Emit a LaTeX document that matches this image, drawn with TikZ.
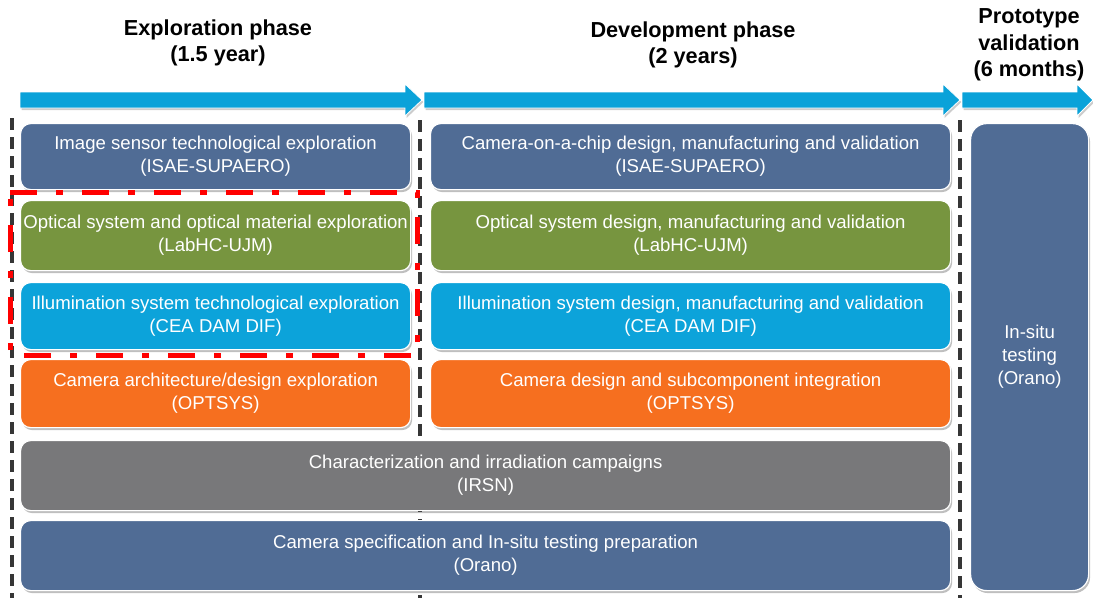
\documentclass[tikz,border=0pt]{standalone}
\usepackage{fontspec}
\setmainfont{Liberation Sans}
\usetikzlibrary{shadows}
\definecolor{slate}{HTML}{506C95}
\definecolor{olive}{HTML}{77953F}
\definecolor{sky}{HTML}{0CA3DA}
\definecolor{orng}{HTML}{F66F1F}
\definecolor{grey}{HTML}{78787A}
\definecolor{arrowblue}{HTML}{0AA2D9}
\definecolor{sepline}{HTML}{363636}
\tikzset{
  box/.style={rounded corners=10pt, draw=white, line width=1.2pt, text=white, align=center,
    font=\fontsize{18.6}{23}\selectfont, inner sep=0pt, anchor=north west,
    drop shadow={shadow xshift=1.5pt, shadow yshift=-2.5pt, fill=black, opacity=0.25}},
  hdr/.style={font=\fontsize{21.7}{26.5}\selectfont\bfseries, align=center, text=black},
  sepl/.style={draw=sepline, line width=4.5pt, dash pattern=on 12pt off 7pt},
  phasearrow/.style={fill=arrowblue, draw=white, line width=0.8pt,
    drop shadow={shadow xshift=1.5pt, shadow yshift=-2pt, fill=black, opacity=0.2}},
  redbox/.style={draw=red, line width=5pt, dash pattern=on 27pt off 19pt on 7pt off 19pt}
}
\begin{document}
\begin{tikzpicture}[x=1pt,y=-1pt]
\useasboundingbox (0,0) rectangle (1093,598);

% headers
\node[hdr] (h1) at (218,43) {Exploration phase\\(1.5 year)};
\node[hdr] (h2) at (693,45) {Development phase\\(2 years)};
\node[hdr] (h3) at (1029,45) {Prototype\\validation\\(6 months)};

% phase arrows
\path[phasearrow] (20,92) -- (405,92) -- (405,84) -- (422,100) -- (405,116) -- (405,108) -- (20,108) -- cycle;
\path[phasearrow] (424,92) -- (943,92) -- (943,84) -- (960,100) -- (943,116) -- (943,108) -- (424,108) -- cycle;
\path[phasearrow] (962,92) -- (1077,92) -- (1077,84) -- (1093,100) -- (1077,116) -- (1077,108) -- (962,108) -- cycle;

% separators
\draw[sepl] (12,118) -- (12,598);
\draw[sepl] (420,120) -- (420,598);
\draw[sepl] (960,120) -- (960,598);

% left column
\node[box, fill=slate, minimum width=390, minimum height=66] (l1) at (20,123) {Image sensor technological exploration\\(ISAE-SUPAERO)};
\node[box, fill=olive, minimum width=390, minimum height=70] (l2) at (20,200) {Optical system and optical material exploration\\(LabHC-UJM)};
\node[box, fill=sky, minimum width=390, minimum height=67] (l3) at (20,282) {Illumination system technological exploration\\(CEA DAM DIF)};
\node[box, fill=orng, minimum width=390, minimum height=68] (l4) at (20,359) {Camera architecture/design exploration\\(OPTSYS)};

% middle column
\node[box, fill=slate, minimum width=520, minimum height=66] (m1) at (430,123) {Camera-on-a-chip design, manufacturing and validation\\(ISAE-SUPAERO)};
\node[box, fill=olive, minimum width=520, minimum height=70] (m2) at (430,200) {Optical system design, manufacturing and validation\\(LabHC-UJM)};
\node[box, fill=sky, minimum width=520, minimum height=67] (m3) at (430,282) {Illumination system design, manufacturing and validation\\(CEA DAM DIF)};
\node[box, fill=orng, minimum width=520, minimum height=68] (m4) at (430,359) {Camera design and subcomponent integration\\(OPTSYS)};

% wide rows
\node[box, fill=grey, minimum width=930, minimum height=70] (w1) at (20,440) {Characterization and irradiation campaigns\\(IRSN)};
\node[box, fill=slate, minimum width=930, minimum height=70] (w2) at (20,520) {Camera specification and In-situ testing preparation\\(Orano)};

% right column
\node[box, fill=slate, minimum width=118, minimum height=467, rounded corners=16pt] (r1) at (970,123) {In-situ\\testing\\(Orano)};

% red highlight
\draw[redbox] (10,192) -- (417,192) -- (417,355) -- (10,355) -- cycle;
\end{tikzpicture}
\end{document}
